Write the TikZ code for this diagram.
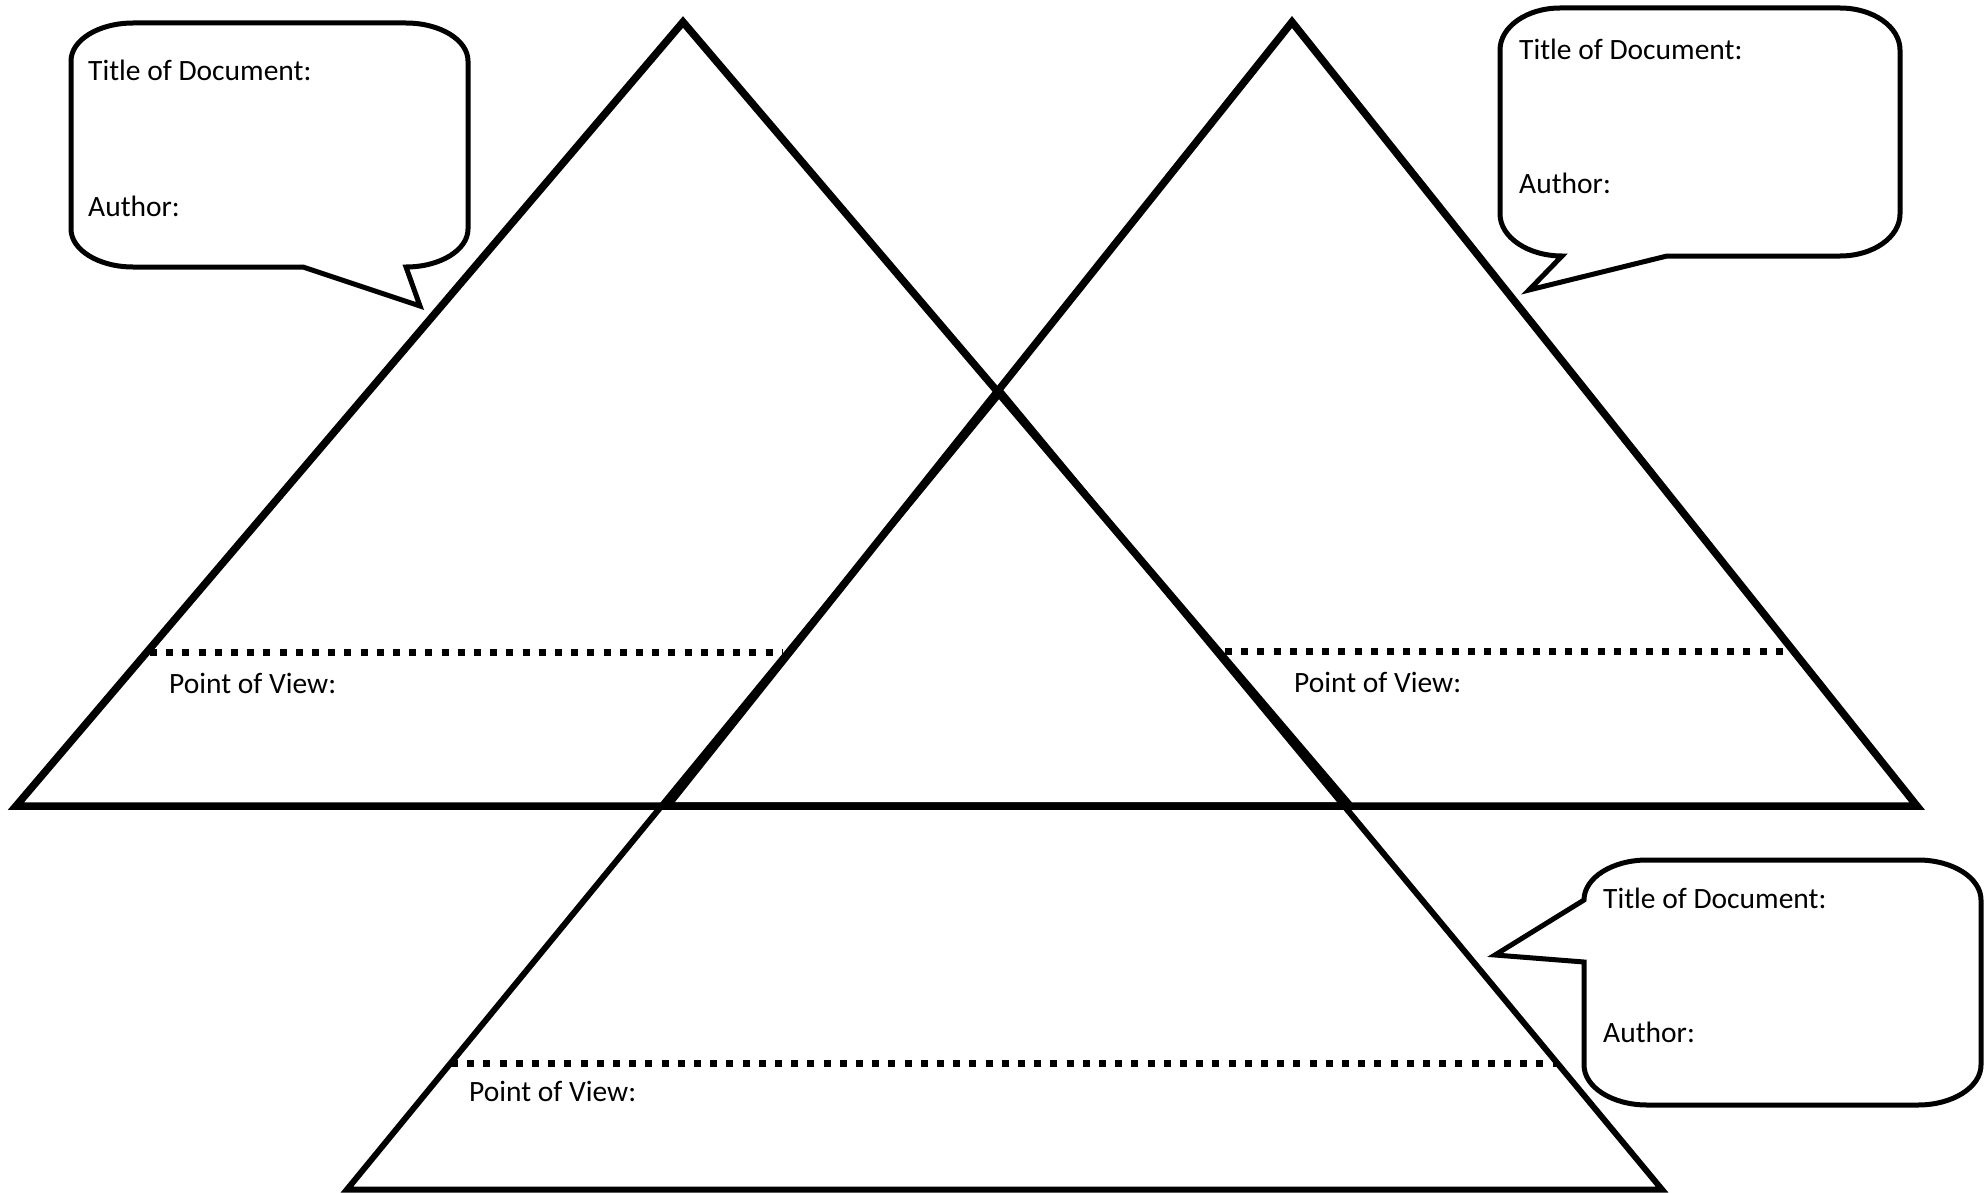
\documentclass[tikz,border=0pt]{standalone}
\usepackage{fontspec}
\setmainfont{Carlito}
\begin{document}
\begin{tikzpicture}[x=1pt,y=-1pt,
  bigtri/.style={line width=7.5pt, line join=miter},
  midtri/.style={line width=6pt, line join=miter},
  povline/.style={line width=7pt, dash pattern=on 7pt off 9.2pt},
  balloon/.style={line width=5pt, line join=miter, fill=white},
  lbl/.style={anchor=base west, inner sep=0pt, font=\fontsize{29.5}{35}\selectfont}]
\useasboundingbox (0,0) rectangle (1986,1193);

% triangle vertices
\coordinate (LA) at (683,22);
\coordinate (LB) at (16,806);
\coordinate (LC) at (1350,806);
\coordinate (RA) at (1292,22);
\coordinate (RB) at (667,806);
\coordinate (RC) at (1917,806);
\coordinate (MA) at (1001,392);
\coordinate (MB) at (347,1189.5);
\coordinate (MC) at (1662,1189.5);

% dotted point-of-view lines
\coordinate (d1a) at (150,652);
\coordinate (d1b) at (782,652);
\coordinate (d2a) at (1225,651);
\coordinate (d2b) at (1792,651);
\coordinate (d3a) at (451,1063.5);
\coordinate (d3b) at (1557,1063.5);
\draw[povline] (d1a) -- (d1b);
\draw[povline] (d2a) -- (d2b);
\draw[povline] (d3a) -- (d3b);

% triangles
\draw[midtri] (MA) -- (MB) -- (MC) -- cycle;
\draw[bigtri] (LA) -- (LB) -- (LC) -- cycle;
\draw[bigtri] (RA) -- (RB) -- (RC) -- cycle;

% top-left balloon
\draw[balloon] (133,23) -- (406,23) .. controls (440.2,23) and (468,40) .. (468,61)
  -- (468,229) .. controls (468,250) and (440.2,267) .. (406,267)
  -- (420,306) -- (303,267) -- (133,267)
  .. controls (98.8,267) and (71,250) .. (71,229)
  -- (71,61) .. controls (71,40) and (98.8,23) .. (133,23) -- cycle;

% top-right balloon
\draw[balloon] (1560,8) -- (1840,8) .. controls (1873.1,8) and (1900,26.8) .. (1900,50)
  -- (1900,214) .. controls (1900,237.2) and (1873.1,256) .. (1840,256)
  -- (1667,256) -- (1529,290) -- (1562,256)
  .. controls (1528,256) and (1500,237.2) .. (1500,214)
  -- (1500,50) .. controls (1500,26.8) and (1526.9,8) .. (1560,8) -- cycle;

% bottom-right balloon
\draw[balloon] (1647,860) -- (1918,860) .. controls (1952.8,860) and (1981,877.9) .. (1981,900)
  -- (1981,1065) .. controls (1981,1087.1) and (1952.8,1105) .. (1918,1105)
  -- (1647,1105) .. controls (1612.2,1105) and (1584,1087.1) .. (1584,1065)
  -- (1584,962) -- (1495,955) -- (1584,900)
  .. controls (1584,877.9) and (1612.2,860) .. (1647,860) -- cycle;

% texts
\node[lbl] (tl1) at (88,81) {Title of Document:};
\node[lbl] (tl2) at (88,217) {Author:};
\node[lbl] (tr1) at (1519,60) {Title of Document:};
\node[lbl] (tr2) at (1519,194) {Author:};
\node[lbl] (br1) at (1603,908) {Title of Document:};
\node[lbl] (br2) at (1603,1042) {Author:};
\node[lbl] (pv1) at (169,693) {Point of View:};
\node[lbl] (pv2) at (1294,692) {Point of View:};
\node[lbl] (pv3) at (469,1101) {Point of View:};
\end{tikzpicture}
\end{document}
